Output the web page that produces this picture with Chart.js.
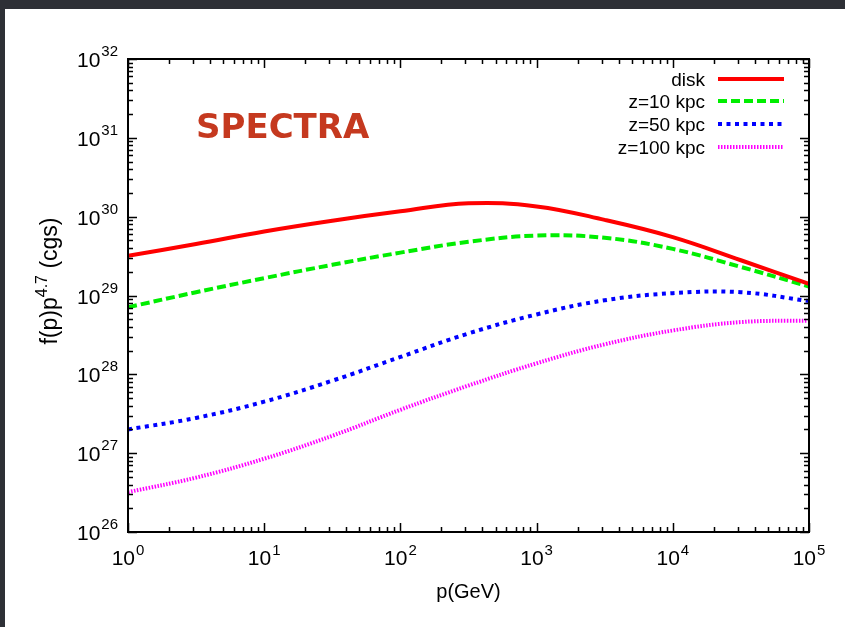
<!DOCTYPE html>
<html>
<head>
<meta charset="utf-8">
<script src="https://cdn.jsdelivr.net/npm/chart.js@4/dist/chart.umd.min.js"></script>
<style>
  html, body { margin: 0; padding: 0; background: #2e3036; }
  #panel { position: absolute; left: 5px; top: 9px; right: 0; bottom: 0; background: #fff; }
  #spectra { position: absolute; left: 0; top: 0; }
</style>
</head>
<body>
<div id="panel"></div>
<canvas id="spectra" width="845" height="627"></canvas>
<script>
// momentum grid (GeV), half a decade apart
var pGeV = [1, 3.16, 10, 31.6, 100, 316, 1000, 3160, 10000, 31600, 100000];

// f(p) p^4.7, cgs
var disk   = [3.2e29, 4.5e29, 6.5e29, 8.9e29, 1.17e30, 1.48e30, 1.35e30, 9.1e29, 5.5e29, 2.8e29, 1.4e29];
var z10    = [7.1e28, 1.1e29, 1.66e29, 2.45e29, 3.5e29, 4.8e29, 5.75e29, 5.4e29, 3.9e29, 2.3e29, 1.3e29];
var z50    = [2.0e27, 2.8e27, 4.5e27, 8.3e27, 1.66e28, 3.3e28, 5.75e28, 8.7e28, 1.07e29, 1.1e29, 8.5e28];
var z100   = [3.2e26, 4.9e26, 8.5e26, 1.66e27, 3.55e27, 7.2e27, 1.38e28, 2.4e28, 3.6e28, 4.6e28, 4.8e28];

var seriesNames = ["disk", "z=10 kpc", "z=50 kpc", "z=100 kpc"];

// decade exponents used as tick labels
var xTickExps = [0, 1, 2, 3, 4, 5];
var yTickExps = [26, 27, 28, 29, 30, 31, 32];

function pts(arr) {
  return pGeV.map(function (p, i) { return { x: p, y: arr[i] }; });
}

var FONT = '"Liberation Sans", Arial, Helvetica, sans-serif';

/* ------------ frame, ticks, labels, legend, title drawn on the chart ------------ */
var decorPlugin = {
  id: 'decor',
  afterDatasetsDraw: function (chart) {
    var ctx = chart.ctx;
    var a = chart.chartArea;
    var xs = chart.scales.x, ys = chart.scales.y;
    ctx.save();

    // ticks, gnuplot style: inward on all four sides
    ctx.strokeStyle = '#000';
    ctx.lineWidth = 1.5;
    ctx.beginPath();
    for (var n = xTickExps[0]; n <= xTickExps[xTickExps.length - 1]; n++) {
      for (var k = 1; k <= 9; k++) {
        var v = k * Math.pow(10, n);
        if (v > Math.pow(10, xTickExps[xTickExps.length - 1])) break;
        var px = Math.round(xs.getPixelForValue(v)) + 0.5;
        var len = (k === 1) ? 9 : 5;
        ctx.moveTo(px, a.bottom); ctx.lineTo(px, a.bottom - len);
        ctx.moveTo(px, a.top); ctx.lineTo(px, a.top + len);
      }
    }
    for (var m = yTickExps[0]; m <= yTickExps[yTickExps.length - 1]; m++) {
      for (var j = 1; j <= 9; j++) {
        var w = j * Math.pow(10, m);
        if (w > Math.pow(10, yTickExps[yTickExps.length - 1])) break;
        var py = Math.round(ys.getPixelForValue(w)) + 0.5;
        var ln = (j === 1) ? 9 : 5;
        ctx.moveTo(a.left, py); ctx.lineTo(a.left + ln, py);
        ctx.moveTo(a.right, py); ctx.lineTo(a.right - ln, py);
      }
    }
    ctx.stroke();

    // frame
    ctx.lineWidth = 2;
    ctx.strokeRect(a.left, a.top, a.right - a.left, a.bottom - a.top);

    // tick labels 10^n
    ctx.fillStyle = '#000';
    ctx.textBaseline = 'alphabetic';
    xTickExps.forEach(function (e) {
      var cx = xs.getPixelForValue(Math.pow(10, e));
      ctx.font = '21px ' + FONT;
      var bw = ctx.measureText('10').width;
      ctx.font = '15px ' + FONT;
      var sw = ctx.measureText(String(e)).width;
      var x0 = cx - (bw + sw + 1) / 2;
      ctx.textAlign = 'left';
      ctx.font = '21px ' + FONT;
      ctx.fillText('10', x0, 565);
      ctx.font = '15px ' + FONT;
      ctx.fillText(String(e), x0 + bw + 1, 555);
    });
    yTickExps.forEach(function (e) {
      var cy = ys.getPixelForValue(Math.pow(10, e));
      ctx.font = '15px ' + FONT;
      var sw = ctx.measureText(String(e)).width;
      var right = a.left - 10;
      ctx.textAlign = 'left';
      ctx.fillText(String(e), right - sw, cy - 3);
      ctx.font = '21px ' + FONT;
      ctx.textAlign = 'right';
      ctx.fillText('10', right - sw - 1, cy + 8);
    });

    // axis titles
    ctx.font = '20px ' + FONT;
    ctx.textAlign = 'center';
    ctx.fillText('p(GeV)', (a.left + a.right) / 2, 598);

    ctx.save();
    ctx.translate(57, 281);
    ctx.rotate(-Math.PI / 2);
    ctx.font = '23px ' + FONT;
    var w1 = ctx.measureText('f(p)p').width;
    var w3 = ctx.measureText(' (cgs)').width;
    ctx.font = '16px ' + FONT;
    var w2 = ctx.measureText('4.7').width;
    var sx = -(w1 + w2 + w3) / 2;
    ctx.textAlign = 'left';
    ctx.font = '23px ' + FONT;
    ctx.fillText('f(p)p', sx, 0);
    ctx.font = '16px ' + FONT;
    ctx.fillText('4.7', sx + w1, -10);
    ctx.font = '23px ' + FONT;
    ctx.fillText(' (cgs)', sx + w1 + w2, 0);
    ctx.restore();

    // legend: text on the left, line sample on the right
    var rows = [79, 101, 124, 147];
    chart.data.datasets.forEach(function (ds, i) {
      ctx.font = '19px ' + FONT;
      ctx.textAlign = 'right';
      ctx.fillStyle = '#000';
      ctx.fillText(ds.label, 705, rows[i] + 7);
      ctx.strokeStyle = ds.borderColor;
      ctx.lineWidth = ds.borderWidth;
      ctx.setLineDash(ds.borderDash || []);
      ctx.lineCap = 'butt';
      ctx.beginPath();
      ctx.moveTo(718, rows[i]);
      ctx.lineTo(784, rows[i]);
      ctx.stroke();
      ctx.setLineDash([]);
    });

    // SPECTRA tag
    ctx.font = 'bold 34px "DejaVu Sans", sans-serif';
    ctx.fillStyle = '#c5391f';
    ctx.textAlign = 'left';
    ctx.fillText('SPECTRA', 196, 138);

    ctx.restore();
  }
};

var config = {
  type: 'line',
  data: {
    datasets: [
      { label: seriesNames[0], data: pts(disk), borderColor: '#ff0000', borderWidth: 4, borderDash: [] },
      { label: seriesNames[1], data: pts(z10), borderColor: '#00ee00', borderWidth: 4, borderDash: [9, 4] },
      { label: seriesNames[2], data: pts(z50), borderColor: '#0000ff', borderWidth: 4, borderDash: [4, 4.5] },
      { label: seriesNames[3], data: pts(z100), borderColor: '#ff00ff', borderWidth: 4, borderDash: [1.5, 1.5] }
    ]
  },
  options: {
    responsive: false,
    animation: false,
    events: [],
    layout: { padding: { left: 128, top: 59, right: 36, bottom: 95 } },
    elements: {
      point: { radius: 0 },
      line: { tension: 0.4, fill: false }
    },
    scales: {
      x: { type: 'logarithmic', min: 1, max: 1e5, display: false },
      y: { type: 'logarithmic', min: 1e26, max: 1e32, display: false }
    },
    plugins: {
      legend: { display: false },
      tooltip: { enabled: false }
    }
  },
  plugins: [decorPlugin]
};

var chart = new Chart(document.getElementById('spectra').getContext('2d'), config);
</script>
</body>
</html>
